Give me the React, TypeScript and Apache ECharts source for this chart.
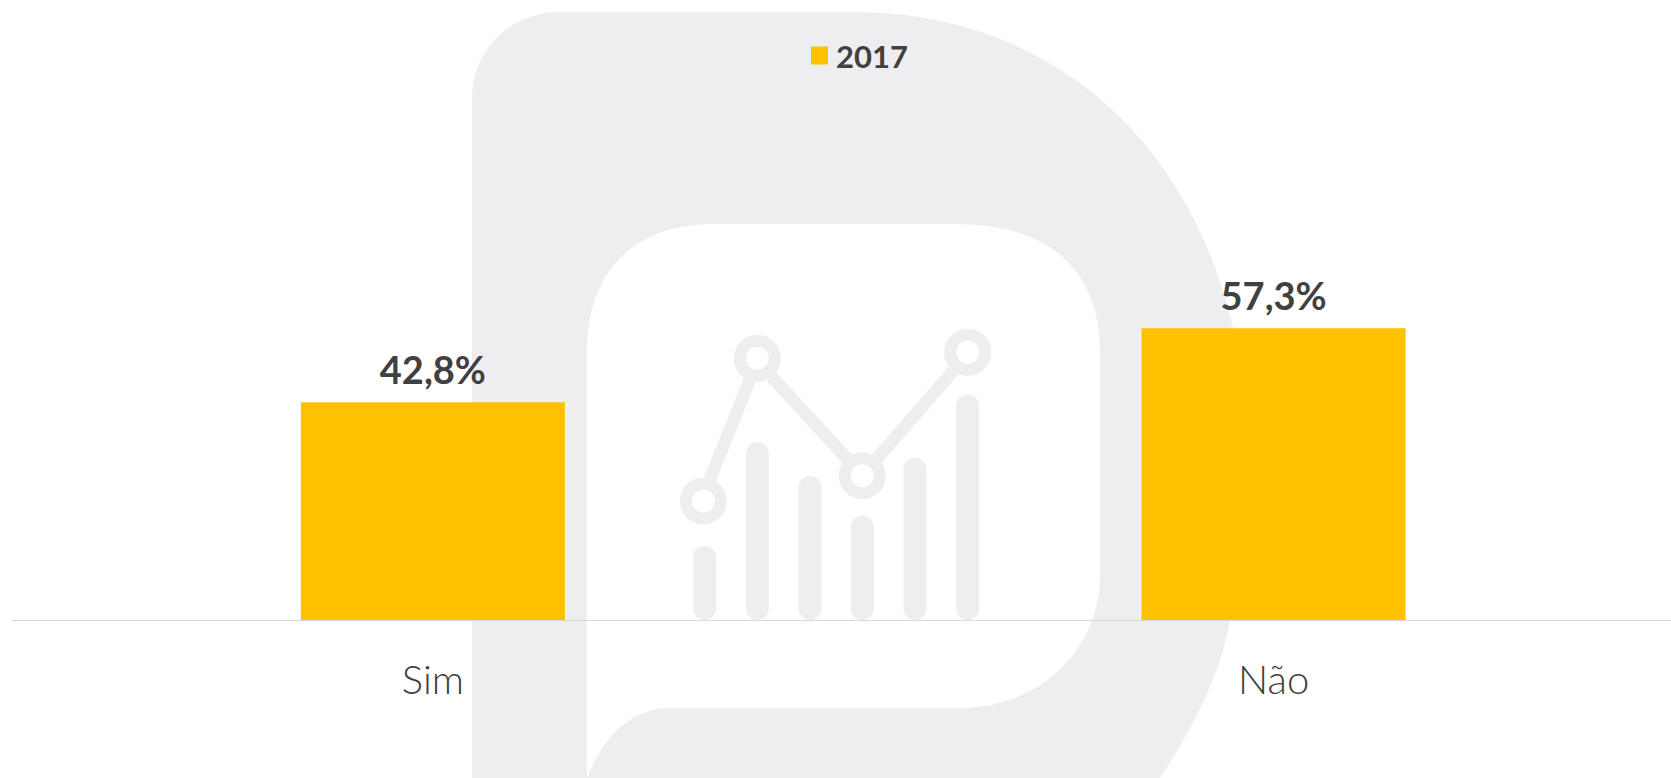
import React, { useEffect, useRef } from "react";
import * as echarts from "echarts";

const categories = ["Sim", "Não"];
const seriesName = "2017";
const values = [42.8, 57.3];

const GRAY = "#EEEEF0";
const TEXT = "#404040";
const FONT = "Lato, 'Noto Sans', sans-serif";

const outerD =
  "M472 778 L472 100 C472 48 512 12 560 12 L853 12 C1050 12 1190 140 1233 328 C1245 380 1250 500 1230 620 C1222 670 1195 725 1160 778 Z";
const innerD =
  "M587 778 L587 352 C587 270 635 224 714 224 L954 224 C1050 224 1100 270 1100 352 L1100 575 C1100 650 1040 708 959 708 L671 708 C630 708 603 738 587 778 Z";
echarts.graphic.registerShape("logoOuter", echarts.graphic.extendPath(outerD, {}));
echarts.graphic.registerShape("logoInner", echarts.graphic.extendPath(innerD, {}));

const iconBars = [
  [704.7, 546],
  [757.3, 442.3],
  [810, 476],
  [862.3, 515.7],
  [915, 457.7],
  [967.7, 394.7],
];
const iconRings = [
  [703.3, 501],
  [757.3, 358.3],
  [862.3, 475.7],
  [967.7, 352.3],
];
const iconLinks = [
  [710, 479, 750, 379.3],
  [771.3, 376.3, 847.3, 459],
  [877, 458.7, 954, 370],
];

function decoration() {
  const els: any[] = [
    { type: "logoOuter", x: 0, y: 0, silent: true, z: -10, style: { fill: GRAY } },
    { type: "logoInner", x: 0, y: 0, silent: true, z: -9, style: { fill: "#FFFFFF" } },
  ];
  iconBars.forEach(([x, top]) =>
    els.push({
      type: "rect",
      silent: true,
      z: -8,
      shape: { x: x - 11.5, y: top, width: 23, height: 620 - top, r: 11.5 },
      style: { fill: GRAY },
    })
  );
  iconLinks.forEach(([x1, y1, x2, y2]) =>
    els.push({
      type: "line",
      silent: true,
      z: -8,
      shape: { x1, y1, x2, y2 },
      style: { stroke: GRAY, lineWidth: 12.5 },
    })
  );
  iconRings.forEach(([cx, cy]) =>
    els.push({
      type: "ring",
      silent: true,
      z: -7,
      shape: { cx, cy, r: 23.5, r0: 11.5 },
      style: { fill: GRAY },
    })
  );
  return els;
}

export default function App() {
  const ref = useRef<HTMLDivElement>(null);
  useEffect(() => {
    const chart = echarts.init(ref.current!, null, { renderer: "svg" });
    chart.setOption({
      animation: false,
      backgroundColor: "#FFFFFF",
      graphic: { elements: decoration() },
      legend: {
        show: true,
        left: 806,
        top: 35,
        icon: "rect",
        itemWidth: 17,
        itemHeight: 18,
        selectedMode: false,
        data: [seriesName],
        textStyle: {
          fontFamily: FONT,
          fontSize: 31,
          fontWeight: "bold",
          color: TEXT,
          padding: [0, 0, 0, 3],
        },
      },
      grid: { left: 12.5, right: 0, top: 111, bottom: 158 },
      xAxis: {
        type: "category",
        data: categories,
        axisLine: { show: true, lineStyle: { color: "#D9D9D9", width: 1 } },
        axisTick: { show: false },
        splitLine: { show: false },
        axisLabel: {
          fontFamily: FONT,
          fontSize: 40,
          fontWeight: 300,
          color: TEXT,
          margin: 39,
        },
      },
      yAxis: { type: "value", min: 0, max: 100, show: false, splitLine: { show: false } },
      series: [
        {
          name: seriesName,
          type: "bar",
          data: values,
          barWidth: 264,
          itemStyle: { color: "#FFC000" },
          label: {
            show: true,
            position: "top",
            distance: 14,
            fontFamily: FONT,
            fontSize: 38,
            fontWeight: "bold",
            color: TEXT,
            formatter: (p: any) => `${String(p.value).replace(".", ",")}%`,
          },
        },
      ],
    });
    return () => chart.dispose();
  }, []);
  return (
    <div style={{ position: "absolute", left: 0, top: 0, width: 1671, height: 778, overflow: "hidden" }}>
      <div ref={ref} style={{ width: 1694, height: 778 }} />
    </div>
  );
}
